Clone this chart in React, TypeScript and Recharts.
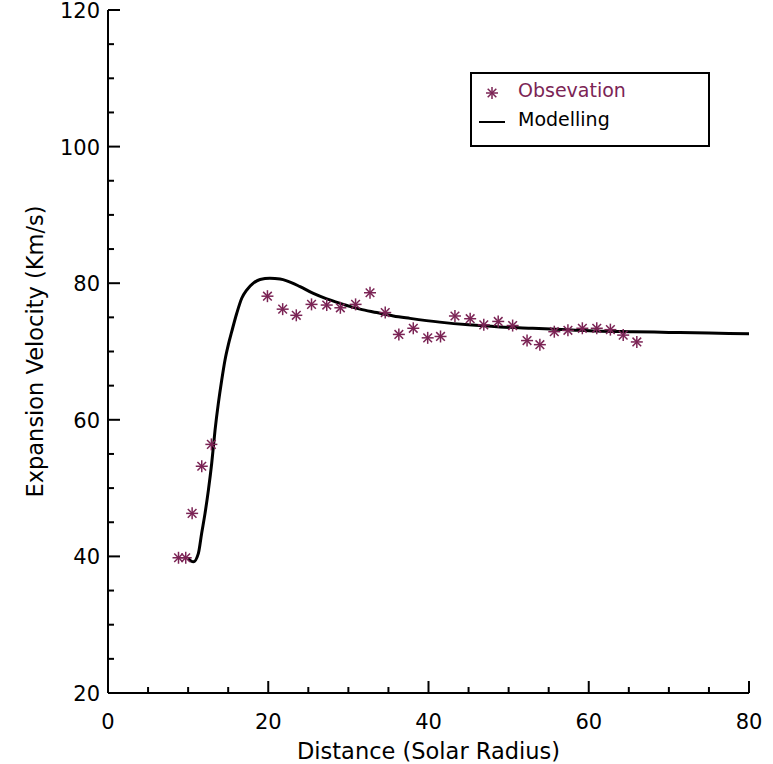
import React from 'react';
import { ComposedChart, Line, Scatter, XAxis, YAxis } from 'recharts';

const obsX = [8.8, 9.7, 10.5, 11.7, 12.9, 19.9, 21.8, 23.5, 25.4, 27.3, 29.0, 30.9, 32.7, 34.6, 36.3, 38.1, 39.9, 41.5, 43.3, 45.2, 46.9, 48.7, 50.5, 52.3, 53.9, 55.7, 57.4, 59.2, 61.0, 62.7, 64.3, 66.0];
const obsV = [39.8, 39.8, 46.3, 53.2, 56.4, 78.1, 76.2, 75.3, 76.9, 76.8, 76.4, 76.9, 78.6, 75.7, 72.5, 73.4, 72.0, 72.2, 75.2, 74.8, 73.9, 74.4, 73.8, 71.6, 71.0, 72.9, 73.1, 73.4, 73.4, 73.2, 72.4, 71.4];

const modelX = [10.0, 10.65, 11.28, 11.69, 12.11, 12.53, 12.94, 13.36, 13.77, 14.19, 14.61, 15.02, 15.44, 16.07, 16.69, 17.31, 18.14, 18.98, 20.2, 21.47, 22.31, 23.97, 25.63, 27.3, 28.96, 31.46, 33.54, 35.62, 37.7, 41.4, 45.0, 48.9, 53.0, 57.3, 61.0, 65.5, 70.0, 75.0, 80.0];
const modelV = [39.7, 39.2, 40.45, 43.4, 46.3, 49.7, 53.6, 58.5, 62.4, 65.8, 68.8, 71.0, 72.9, 75.6, 77.8, 79.0, 80.0, 80.55, 80.72, 80.6, 80.35, 79.5, 78.5, 77.7, 77.05, 76.2, 75.7, 75.2, 74.85, 74.3, 73.9, 73.6, 73.4, 73.2, 73.0, 72.9, 72.8, 72.7, 72.6];

const xTicks = [0, 5, 10, 15, 20, 25, 30, 35, 40, 45, 50, 55, 60, 65, 70, 75, 80];
const yTicks = [20, 25, 30, 35, 40, 45, 50, 55, 60, 65, 70, 75, 80, 85, 90, 95, 100, 105, 110, 115, 120];

const obsData = obsX.map((x, i) => ({ x, y: obsV[i] }));
const modelData = modelX.map((x, i) => ({ x, y: modelV[i] }));

const PURPLE = '#7b2455';
const FONT = '"DejaVu Sans", sans-serif';
const MAJOR = 12;
const MINOR = 6;

const Star = (props: any) => {
  const { cx, cy } = props;
  const r = 6;
  const d = r * 0.72;
  return (
    <g stroke={PURPLE} strokeWidth={1.5}>
      <line x1={cx - r} y1={cy} x2={cx + r} y2={cy} />
      <line x1={cx} y1={cy - r} x2={cx} y2={cy + r} />
      <line x1={cx - d} y1={cy - d} x2={cx + d} y2={cy + d} />
      <line x1={cx - d} y1={cy + d} x2={cx + d} y2={cy - d} />
    </g>
  );
};

const BottomTick = ({ x, y, payload }: any) => {
  const major = payload.value % 20 === 0;
  return (
    <g>
      <line x1={x} y1={y} x2={x} y2={y - (major ? MAJOR : MINOR)} stroke="#000" strokeWidth={2} />
      {major && (
        <text x={x} y={y + 36} textAnchor="middle" fontSize={21} fontFamily={FONT} fill="#000">{payload.value}</text>
      )}
    </g>
  );
};

const TopTick = ({ x, y, payload }: any) => {
  const major = payload.value % 20 === 0;
  return <line x1={x} y1={y} x2={x} y2={y + (major ? MAJOR : MINOR)} stroke="#000" strokeWidth={2} />;
};

const LeftTick = ({ x, y, payload }: any) => {
  const major = payload.value % 20 === 0;
  return (
    <g>
      <line x1={x} y1={y} x2={x + (major ? MAJOR : MINOR)} y2={y} stroke="#000" strokeWidth={2} />
      {major && (
        <text x={x - 8} y={y + 8} textAnchor="end" fontSize={21} fontFamily={FONT} fill="#000">{payload.value}</text>
      )}
    </g>
  );
};

const RightTick = ({ x, y, payload }: any) => {
  const major = payload.value % 20 === 0;
  return <line x1={x} y1={y} x2={x - (major ? MAJOR : MINOR)} y2={y} stroke="#000" strokeWidth={2} />;
};

const axisLine = { stroke: '#000', strokeWidth: 2 };

export default function App() {
  return (
    <div style={{ position: 'absolute', left: 0, top: 0, width: 773, height: 764, background: '#fff' }}>
      <ComposedChart width={773} height={764} margin={{ top: 10, right: 24, left: 0, bottom: 0 }}>
        <XAxis xAxisId="b" type="number" dataKey="x" domain={[0, 80]} ticks={xTicks} interval={0}
          height={71} axisLine={axisLine} tickLine={false} tickSize={0} tickMargin={0} tick={<BottomTick />}
          label={{ value: 'Distance (Solar Radius)', position: 'insideBottom', offset: 5, style: { fontSize: 22.5, fontFamily: FONT, fill: '#000' } }} />
        <XAxis xAxisId="t" orientation="top" type="number" dataKey="x" domain={[0, 80]} ticks={xTicks} interval={0}
          height={0} axisLine={axisLine} tickLine={false} tickSize={0} tickMargin={0} tick={<TopTick />} />
        <YAxis yAxisId="l" type="number" dataKey="y" domain={[20, 120]} ticks={yTicks} interval={0}
          width={108} axisLine={axisLine} tickLine={false} tickSize={0} tickMargin={0} tick={<LeftTick />}
          label={{ value: 'Expansion Velocity (Km/s)', angle: -90, position: 'insideLeft', offset: 35, style: { textAnchor: 'middle', fontSize: 22.5, fontFamily: FONT, fill: '#000' } }} />
        <YAxis yAxisId="r" orientation="right" type="number" dataKey="y" domain={[20, 120]} ticks={yTicks} interval={0}
          width={0} axisLine={axisLine} tickLine={false} tickSize={0} tickMargin={0} tick={<RightTick />} />
        <Line xAxisId="b" yAxisId="l" data={modelData} dataKey="y" type="monotone" stroke="#000" strokeWidth={3}
          dot={false} isAnimationActive={false} />
        <Scatter xAxisId="b" yAxisId="l" data={obsData} dataKey="y" shape={<Star />} isAnimationActive={false} />
      </ComposedChart>
      <div style={{ position: 'absolute', left: 470, top: 72, width: 236, height: 71, border: '2px solid #000', fontFamily: FONT, fontSize: 19 }}>
        <div style={{ position: 'absolute', left: 12, top: 9, width: 16, height: 16 }}>
          <svg width={16} height={16}><Star cx={8} cy={8} /></svg>
        </div>
        <div style={{ position: 'absolute', left: 46, top: 5, color: PURPLE }}>Obsevation</div>
        <div style={{ position: 'absolute', left: 7, top: 47, width: 26, height: 2, background: '#000' }} />
        <div style={{ position: 'absolute', left: 46, top: 34, color: '#000' }}>Modelling</div>
      </div>
    </div>
  );
}
